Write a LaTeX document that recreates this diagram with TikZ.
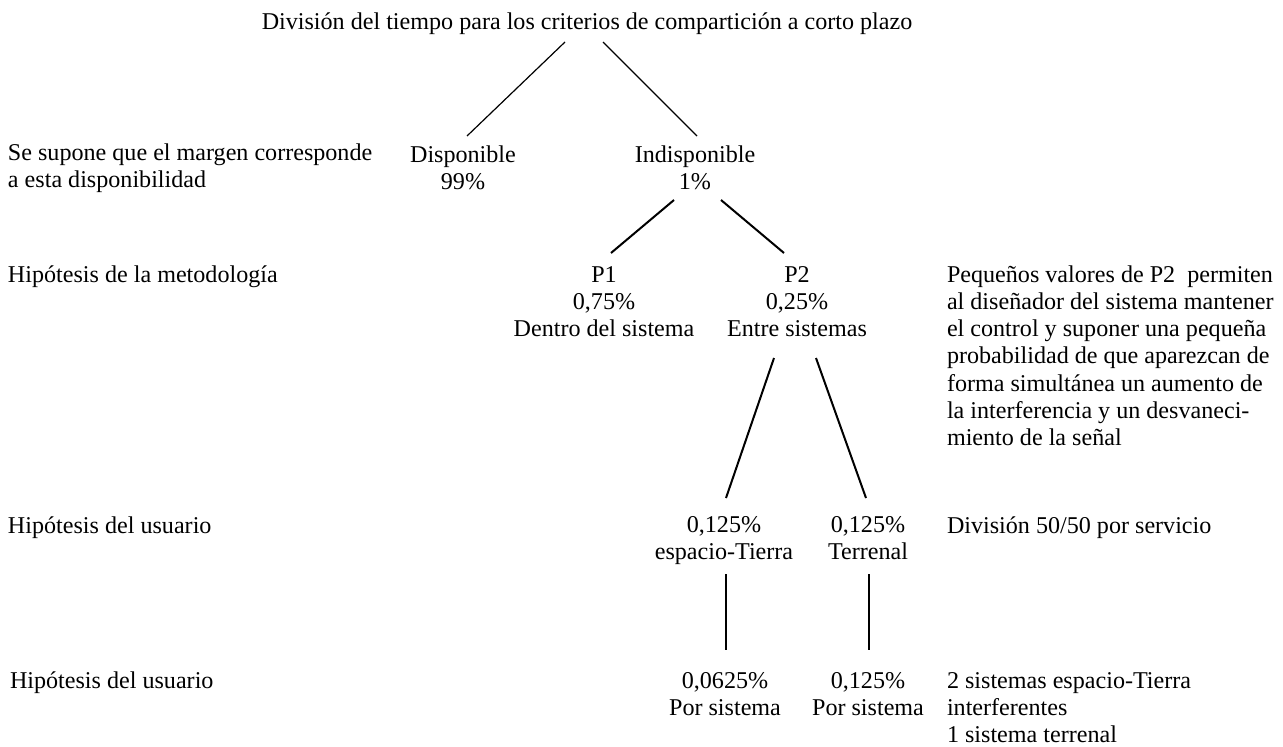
\documentclass[tikz,border=0pt]{standalone}
\usepackage{fontspec}
\setmainfont{Liberation Serif}
\begin{document}
\begin{tikzpicture}[x=1pt,y=-1pt,
  every node/.style={inner sep=0pt, outer sep=0pt, font=\fontsize{24.1}{27.3}\selectfont},
  lbl/.style={anchor=base, align=center},
  side/.style={anchor=base west, align=left},
  thinline/.style={line width=1.2pt},
  medline/.style={line width=2pt},
  thickline/.style={line width=2.7pt}]
\useasboundingbox (0,0) rectangle (1283,747);

% tree nodes (anchored at the baseline of their last line)
\node[lbl] (title) at (587,29) {División del tiempo para los criterios de compartición a corto plazo};
\node[lbl] (disp) at (463,189.3) {Disponible\\99\%};
\node[lbl] (indisp) at (695,189.3) {Indisponible\\1\%};
\node[lbl] (p1) at (604,336.6) {P1\\0,75\%\\Dentro del sistema};
\node[lbl] (p2) at (797,336.6) {P2\\0,25\%\\Entre sistemas};
\node[lbl] (et) at (724,559.3) {0,125\%\\espacio-Tierra};
\node[lbl] (ter) at (868,559.3) {0,125\%\\Terrenal};
\node[lbl] (ps1) at (725,715.3) {0,0625\%\\Por sistema};
\node[lbl] (ps2) at (868,715.3) {0,125\%\\Por sistema};

% left labels
\node[side] (l1) at (8,187.3) {Se supone que el margen corresponde\\a esta disponibilidad};
\node[side] (l2) at (8,282) {Hipótesis de la metodología};
\node[side] (l3) at (8,533) {Hipótesis del usuario};
\node[side] (l4) at (10,688) {Hipótesis del usuario};

% right labels
\node[side] (r1) at (947,445.8) {Pequeños valores de P2\ \ permiten\\al diseñador del sistema mantener\\el control y suponer una pequeña\\probabilidad de que aparezcan de\\forma simultánea un aumento de\\la interferencia y un desvaneci-\\miento de la señal};
\node[side] (r2) at (947,533) {División 50/50 por servicio};
\node[side] (r3) at (947,742.6) {2 sistemas espacio-Tierra\\interferentes\\1 sistema terrenal};

% connectors
\draw[thinline] ([shift={(-22,13)}]title.base) -- ([shift={(4,-53.3)}]disp.base);
\draw[thinline] ([shift={(16,13)}]title.base) -- ([shift={(2,-53.3)}]indisp.base);
\draw[medline] ([shift={(-21,10.7)}]indisp.base) -- ([shift={(7,-83.6)}]p1.base);
\draw[medline] ([shift={(26,10.7)}]indisp.base) -- ([shift={(-13,-83.6)}]p2.base);
\draw[medline] ([shift={(-23,21.4)}]p2.base) -- ([shift={(2,-61.3)}]et.base);
\draw[medline] ([shift={(19,21.4)}]p2.base) -- ([shift={(-2,-61.3)}]ter.base);
\draw[thickline] ([shift={(2,14.7)}]et.base) -- ([shift={(1,-65.3)}]ps1.base);
\draw[thickline] ([shift={(1,14.7)}]ter.base) -- ([shift={(1,-65.3)}]ps2.base);
\end{tikzpicture}
\end{document}
